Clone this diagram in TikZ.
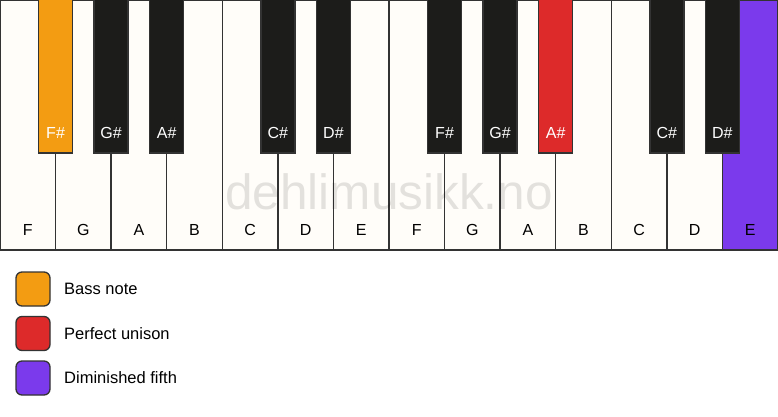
\documentclass[tikz,border=0pt]{standalone}
\usepackage{fontspec}
\setmainfont{Liberation Sans}
\definecolor{keywhite}{HTML}{FFFDF9}
\definecolor{keyblack}{HTML}{1C1C1A}
\definecolor{keyline}{HTML}{333333}
\definecolor{bassc}{HTML}{F39C12}
\definecolor{unisonc}{HTML}{DD2A2A}
\definecolor{dimc}{HTML}{7B3AEC}
\tikzset{
  whitekey/.style={draw=keyline, line width=1.3pt, fill=keywhite},
  blackkey/.style={draw=keyline, line width=1.3pt, fill=keyblack},
  wlabel/.style={font=\fontsize{16}{18}\selectfont, text=black, anchor=base},
  blabel/.style={font=\fontsize{16}{18}\selectfont, text=white, anchor=base},
  legbox/.style={draw=keyline, line width=1.3pt, rounded corners=6pt, minimum width=34pt, minimum height=34pt, inner sep=0pt},
  legtext/.style={font=\fontsize{16.5}{19}\selectfont, anchor=west, inner sep=0pt}
}
\begin{document}
\begin{tikzpicture}[x=1pt,y=-1pt]
\useasboundingbox (0,0) rectangle (778,417);
\fill[white] (0,0) rectangle (778,417);
\def\kw{55.57}
% white keys
\foreach \n [count=\i from 0] in {F,G,A,B,C,D,E,F,G,A,B,C,D,E}{
  \ifnum\i=13
    \draw[whitekey, fill=dimc] (\i*\kw,0) rectangle ({(\i+1)*\kw-0.7},250);
  \else
    \draw[whitekey] (\i*\kw,0) rectangle ({(\i+1)*\kw},250);
  \fi
  \node[wlabel] (w\i) at ({(\i+0.5)*\kw},235.5) {\n};
}
% watermark
\node[font=\fontsize{49.5}{50}\selectfont, text=black, opacity=0.11, anchor=base] (wm) at (389,209) {dehlimusikk.no};
% black keys
\foreach \b/\n/\c in {1/F\#/bassc,2/G\#/keyblack,3/A\#/keyblack,5/C\#/keyblack,6/D\#/keyblack,8/F\#/keyblack,9/G\#/keyblack,10/A\#/unisonc,12/C\#/keyblack,13/D\#/keyblack}{
  \draw[blackkey, fill=\c] ({\b*\kw-17},-2) rectangle ({\b*\kw+17},153);
  \node[blabel] (b\b) at ({\b*\kw},139) {\n};
}
% legend
\node[legbox, fill=bassc] (l1) at (33,289) {};
\node[legtext] (t1) at (64,289) {Bass note};
\node[legbox, fill=unisonc] (l2) at (33,333.5) {};
\node[legtext] (t2) at (64,333.5) {Perfect unison};
\node[legbox, fill=dimc] (l3) at (33,378) {};
\node[legtext] (t3) at (64,378) {Diminished fifth};
\end{tikzpicture}
\end{document}
